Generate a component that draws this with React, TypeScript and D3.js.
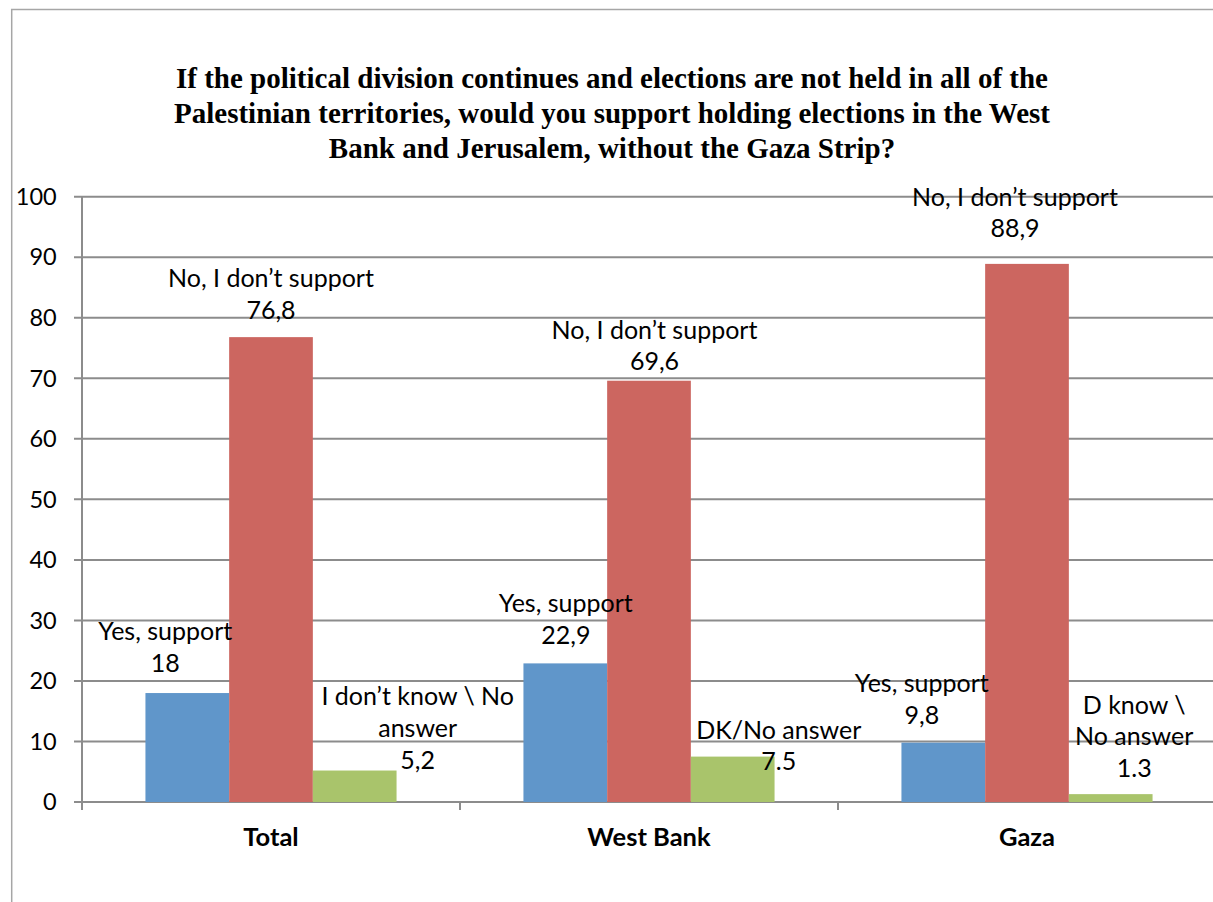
import React from "react";
import * as d3 from "d3";

const categories = ["Total", "West Bank", "Gaza"];
const seriesNames = ["Yes, support", "No, I don’t support", "DK / No answer"];
const yesValues = [18, 22.9, 9.8];
const noValues = [76.8, 69.6, 88.9];
const dkValues = [5.2, 7.5, 1.3];
const yesLabels = [["Yes, support", "18"], ["Yes, support", "22,9"], ["Yes, support", "9,8"]];
const noLabels = [["No, I don’t support", "76,8"], ["No, I don’t support", "69,6"], ["No, I don’t support", "88,9"]];
const dkLabels = [["I don’t know \\ No", "answer", "5,2"], ["DK/No answer", "7.5"], ["D know \\", "No answer", "1.3"]];
const yTicks = [0, 10, 20, 30, 40, 50, 60, 70, 80, 90, 100];
const titleLines = [
  "If the political division continues and elections are not held in all of the",
  "Palestinian territories, would you support holding elections in the West",
  "Bank and Jerusalem, without the Gaza Strip?",
];

// label placement offsets (layout, relative to bar center / bar top)
const labelOffsets = [
  [{ dx: -22, dy: -61.4 }, { dx: 0, dy: -58.8 }, { dx: 63, dy: -73.8 }],
  [{ dx: 0.5, dy: -59.9 }, { dx: 5.5, dy: -50.7 }, { dx: 46, dy: -26.6 }],
  [{ dx: -21.5, dy: -59.4 }, { dx: -12, dy: -66.9 }, { dx: 23.5, dy: -89.1 }],
];

const colors = ["#6096CA", "#CC6660", "#A9C46B"];
const W = 1213;
const H = 902;
const left = 82;
const right = 1216;
const top = 196.7;
const bottom = 802;
const calibri = "Lato, 'Open Sans', sans-serif";

export default function App() {
  const x0 = d3.scaleBand<string>().domain(categories).range([left, right]).paddingInner(0).paddingOuter(0);
  const x1 = d3.scaleBand<string>().domain(seriesNames).range([0, x0.bandwidth()]).paddingInner(0).paddingOuter(0.758);
  const y = d3.scaleLinear().domain([0, 100]).range([bottom, top]);
  const series = [yesValues, noValues, dkValues];
  const labels = [yesLabels, noLabels, dkLabels];
  const lineH = 31.7;
  const fs = 25;

  return (
    <svg width={W} height={H} style={{ position: "absolute", left: 0, top: 0, display: "block", background: "#fff" }}>
      <rect x={11.7} y={9.5} width={W + 20} height={H + 20} fill="#fff" stroke="#A6A6A6" strokeWidth={1.5} />
      {titleLines.map((t, i) => (
        <text key={i} x={612} y={88.3 + i * 35} textAnchor="middle" fontFamily="'Liberation Serif', 'Times New Roman', serif" fontWeight="bold" fontSize={29} fill="#000">
          {t}
        </text>
      ))}
      {yTicks.map((t) => (
        <g key={t}>
          <line x1={left - 8} x2={right} y1={y(t)} y2={y(t)} stroke="#8C8C8C" strokeWidth={2} />
          <text x={56.7} y={y(t)} dy="0.35em" textAnchor="end" fontFamily={calibri} fontSize={23.5} fill="#000">
            {t}
          </text>
        </g>
      ))}
      <line x1={left} x2={left} y1={top} y2={bottom + 8} stroke="#8C8C8C" strokeWidth={2} />
      {categories.map((c) => (
        <line key={c} x1={(x0(c) as number) + x0.bandwidth()} x2={(x0(c) as number) + x0.bandwidth()} y1={bottom} y2={bottom + 8} stroke="#8C8C8C" strokeWidth={2} />
      ))}
      {categories.map((c, ci) =>
        series.map((vals, si) => {
          const bx = (x0(c) as number) + (x1(seriesNames[si]) as number);
          return (
            <rect key={c + si} x={bx} y={y(vals[ci])} width={x1.bandwidth()} height={bottom - y(vals[ci])} fill={colors[si]} />
          );
        })
      )}
      {categories.map((c, ci) =>
        series.map((vals, si) => {
          const cx = (x0(c) as number) + (x1(seriesNames[si]) as number) + x1.bandwidth() / 2;
          const off = labelOffsets[ci][si];
          const y0 = y(vals[ci]) + off.dy;
          return (
            <g key={"l" + c + si}>
              {labels[si][ci].map((ln, li) => (
                <text key={li} x={cx + off.dx} y={y0 + li * lineH} dy="0.35em" textAnchor="middle" fontFamily={calibri} fontSize={fs} fill="#000">
                  {ln}
                </text>
              ))}
            </g>
          );
        })
      )}
      {categories.map((c) => (
        <text key={"c" + c} x={(x0(c) as number) + x0.bandwidth() / 2} y={837} dy="0.35em" textAnchor="middle" fontFamily={calibri} fontWeight="bold" fontSize={25.5} fill="#000">
          {c}
        </text>
      ))}
    </svg>
  );
}
